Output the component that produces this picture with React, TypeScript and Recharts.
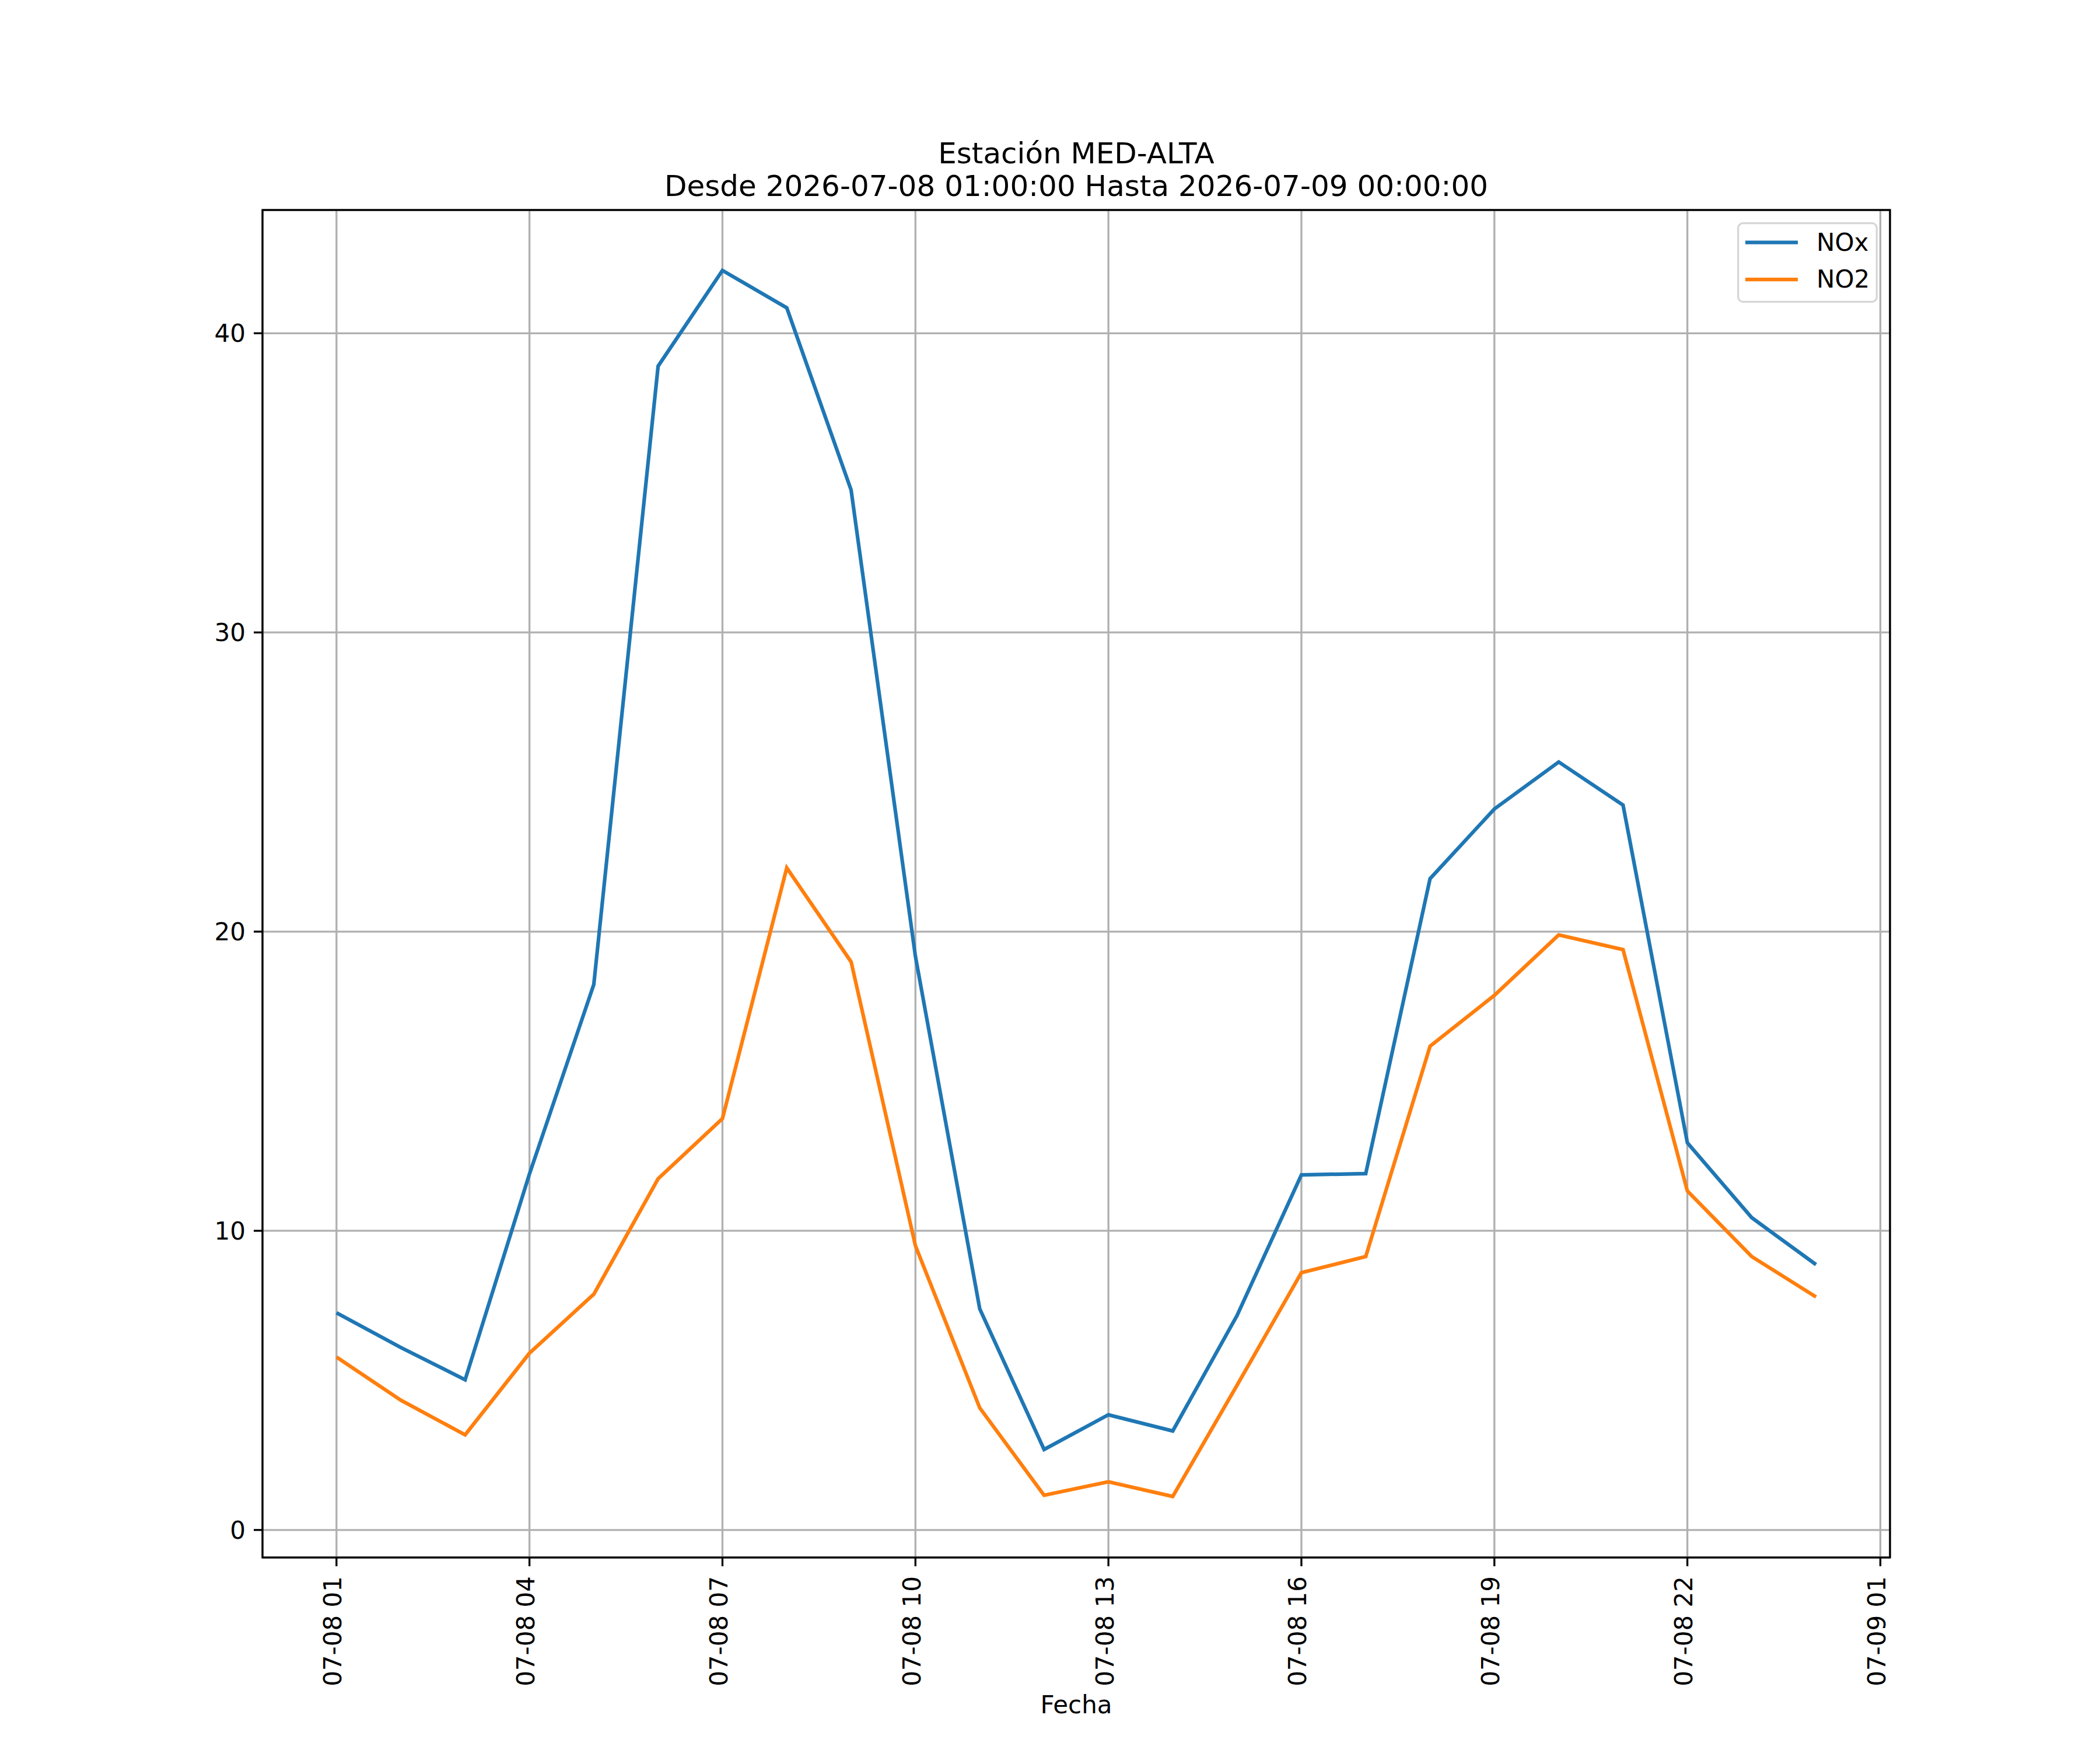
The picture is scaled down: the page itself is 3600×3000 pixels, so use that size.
import { LineChart, Line, XAxis, YAxis, CartesianGrid, Legend } from 'recharts';

const hours = [1, 2, 3, 4, 5, 6, 7, 8, 9, 10, 11, 12, 13, 14, 15, 16, 17, 18, 19, 20, 21, 22, 23, 24];
const nox = [7.26, 6.1, 5.02, 11.9, 18.23, 38.9, 42.1, 40.85, 34.76, 19.17, 7.39, 2.69, 3.85, 3.31, 7.17, 11.87, 11.91, 21.77, 24.1, 25.67, 24.23, 12.94, 10.44, 8.87];
const no2 = [5.78, 4.34, 3.18, 5.91, 7.88, 11.74, 13.75, 22.13, 18.99, 9.5, 4.08, 1.16, 1.61, 1.12, 4.84, 8.6, 9.14, 16.17, 17.87, 19.89, 19.4, 11.33, 9.14, 7.79];
const xTicks = [1, 4, 7, 10, 13, 16, 19, 22, 25];
const xTickLabels = ['07-08 01', '07-08 04', '07-08 07', '07-08 10', '07-08 13', '07-08 16', '07-08 19', '07-08 22', '07-09 01'];
const yTicks = [0, 10, 20, 30, 40];

const data = hours.map((h, i) => ({ h, NOx: nox[i], NO2: no2[i] }));

const FONT = '"DejaVu Sans", sans-serif';
const BLUE = '#1f77b4';
const ORANGE = '#ff7f0e';

// axes box in page pixels (matplotlib defaults at 300 dpi)
const PLOT = { left: 450, top: 360, right: 3240, bottom: 2670 };
const CX = (PLOT.left + PLOT.right) / 2;

const XTick = (props: any) => {
  const { x, y, payload } = props;
  const idx = xTicks.indexOf(payload.value);
  const tx = x - 6;
  return (
    <text
      x={tx}
      y={y}
      transform={`rotate(-90, ${tx}, ${y})`}
      textAnchor="end"
      dominantBaseline="central"
      fontSize={42}
      fontFamily={FONT}
      fill="#000"
    >
      {idx >= 0 ? xTickLabels[idx] : payload.value}
    </text>
  );
};

const legendItems = [
  { name: 'NOx', color: BLUE },
  { name: 'NO2', color: ORANGE },
];

const LegendBox = () => (
  <svg width={241} height={138} style={{ display: 'block' }}>
    <rect x={1.7} y={1.7} width={237.6} height={134.6} rx={8} fill="rgba(255,255,255,0.8)" stroke="#d6d6d6" strokeWidth={3.3} />
    {legendItems.map((item, i) => (
      <g key={item.name}>
        <line x1={14} x2={104} y1={34.7 + i * 63.3} y2={34.7 + i * 63.3} stroke={item.color} strokeWidth={6.25} />
        <text x={136} y={49 + i * 63.3} fontSize={42} fontFamily={FONT} fill="#000">
          {item.name}
        </text>
      </g>
    ))}
  </svg>
);

const App = () => {
  return (
    <div style={{ position: 'absolute', left: 0, top: 0, width: 3600, height: 3000, background: '#fff' }}>
      <LineChart
        width={3600}
        height={3000}
        data={data}
        margin={{ top: PLOT.top, right: 3600 - PLOT.right, bottom: 80, left: 300 }}
      >
        <CartesianGrid stroke="#b0b0b0" strokeWidth={3.33} />
        <XAxis
          dataKey="h"
          type="number"
          domain={[-0.15, 25.15]}
          ticks={xTicks}
          allowDataOverflow
          height={250}
          axisLine={false}
          tickLine={{ stroke: '#000', strokeWidth: 3.33 }}
          tickSize={15}
          tickMargin={17}
          tick={<XTick />}
          interval={0}
        />
        <YAxis
          type="number"
          domain={[-0.92, 44.12]}
          ticks={yTicks}
          allowDataOverflow
          width={150}
          axisLine={false}
          tickLine={{ stroke: '#000', strokeWidth: 3.33 }}
          tickSize={15}
          tickMargin={14}
          tick={{ fontSize: 42, fontFamily: FONT, fill: '#000' }}
          interval={0}
        />
        <Legend
          layout="vertical"
          align="center"
          verticalAlign="middle"
          content={<LegendBox />}
          wrapperStyle={{ left: 2978, top: 381, width: 241, height: 138 }}
        />
        <Line type="linear" dataKey="NOx" stroke={BLUE} strokeWidth={6.25} dot={false} isAnimationActive={false} />
        <Line type="linear" dataKey="NO2" stroke={ORANGE} strokeWidth={6.25} dot={false} isAnimationActive={false} />
      </LineChart>

      <svg
        width={3600}
        height={3000}
        style={{ position: 'absolute', left: 0, top: 0, pointerEvents: 'none' }}
      >
        <rect
          x={PLOT.left}
          y={PLOT.top}
          width={PLOT.right - PLOT.left}
          height={PLOT.bottom - PLOT.top}
          fill="none"
          stroke="#000"
          strokeWidth={3.33}
        />
        <text x={CX} y={280} textAnchor="middle" fontSize={50} fontFamily={FONT} fill="#000">
          Estación MED-ALTA
        </text>
        <text x={CX} y={336} textAnchor="middle" fontSize={50} fontFamily={FONT} fill="#000">
          Desde 2026-07-08 01:00:00 Hasta 2026-07-09 00:00:00
        </text>
        <text x={CX} y={2937} textAnchor="middle" fontSize={42} fontFamily={FONT} fill="#000">
          Fecha
        </text>
      </svg>
    </div>
  );
};

export default App;
